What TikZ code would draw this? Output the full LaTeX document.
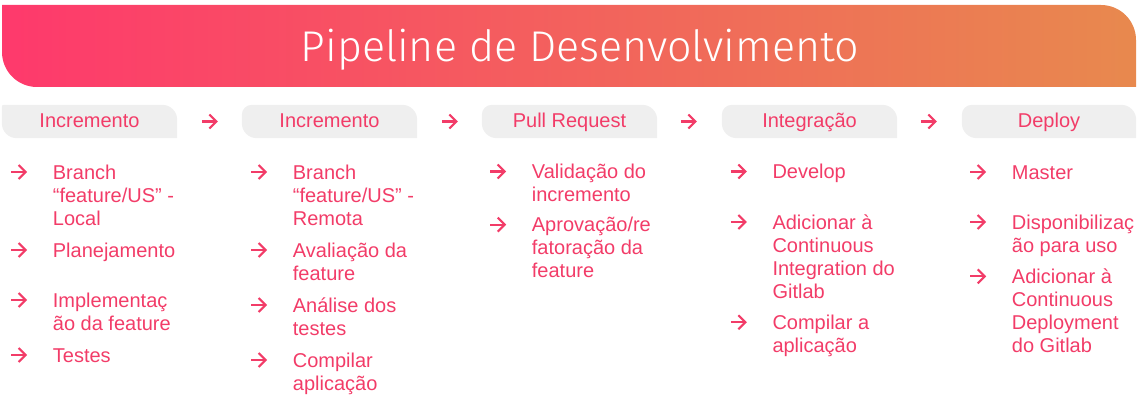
\documentclass[tikz,border=0pt]{standalone}
\usepackage{fontspec}
\setmainfont{Liberation Sans}
\newfontfamily\titlefont{Fira Sans}[UprightFont={* Light}]
\usetikzlibrary{arrows.meta,backgrounds}
\definecolor{hdrL}{RGB}{254,57,108}
\definecolor{hdrR}{RGB}{232,137,78}
\definecolor{tabgray}{RGB}{239,239,239}
\definecolor{pinktxt}{RGB}{242,60,104}
\newcommand\tabbg[2]{%
  \fill[tabgray] ([xshift=#2]#1.north west) -- ([xshift=-15pt]#1.north east)
    arc[start angle=90,end angle=0,radius=15pt] -- (#1.south east)
    -- ([xshift=15pt]#1.south west) arc[start angle=270,end angle=180,radius=15pt]
    -- ([yshift=-#2]#1.north west) arc[start angle=180,end angle=90,radius=#2] -- cycle;}
% #1 name, #2 x, #3 baseline of first line, #4 number of lines, #5 text
\newcommand\bul[5]{%
  \node[itembox] (#1) at (#2,{-#3-23*(#4-1)}) {#5};
  \coordinate (#1s) at ({#2-41.5},{-#3+7});
  \coordinate (#1e) at ({#2-25.5},{-#3+7});
  \draw[arr] (#1s) -- (#1e);}
\begin{document}
\begin{tikzpicture}[x=1pt,y=1pt,
  tab/.style={minimum width=175pt, minimum height=33pt, inner sep=0pt, text height=17pt, text depth=4pt,
    text=pinktxt, font=\fontsize{20}{23}\selectfont},
  itembox/.style={anchor=base west, inner sep=0pt, align=left, text=pinktxt, font=\fontsize{20}{23}\selectfont},
  arr/.style={draw=pinktxt, line width=2.1pt, -{Straight Barb[length=7pt,width=14pt]}},
]
\useasboundingbox (0,0) rectangle (1141,-409);
% header
\shade[left color=hdrL, right color=hdrR] (2,-5) -- (1101,-5)
  arc[start angle=90,end angle=0,radius=35pt] -- (1136,-87) -- (37,-87)
  arc[start angle=270,end angle=180,radius=35pt] -- cycle;
\node[font=\titlefont\fontsize{43}{50}\selectfont, text=white, anchor=base, inner sep=0pt] (title) at (580,-62) {Pipeline de Desenvolvimento};
% tabs
\node[tab] (t1) at (89.5,-121.5) {Incremento};
\node[tab] (t2) at (329.5,-121.5) {Incremento};
\node[tab] (t3) at (569.5,-121.5) {Pull Request};
\node[tab] (t4) at (809.5,-121.5) {Integração};
\node[tab, minimum width=174pt] (t5) at (1049,-121.5) {Deploy};
\begin{scope}[on background layer]
  \tabbg{t1}{2pt}
  \tabbg{t2}{10pt}
  \tabbg{t3}{10pt}
  \tabbg{t4}{10pt}
  \tabbg{t5}{10pt}
\end{scope}
\draw[arr] ([xshift=25pt]t1.east) -- ([xshift=-24pt]t2.west);
\draw[arr] ([xshift=25pt]t2.east) -- ([xshift=-24pt]t3.west);
\draw[arr] ([xshift=24pt]t3.east) -- ([xshift=-25pt]t4.west);
\draw[arr] ([xshift=24pt]t4.east) -- ([xshift=-25pt]t5.west);
% column 1
\bul{a1}{52.7}{179}{3}{Branch\\“feature/US” -\\Local}
\bul{a2}{52.7}{257}{1}{Planejamento}
\bul{a3}{52.7}{307}{2}{Implementaç\\ão da feature}
\bul{a4}{52.7}{362}{1}{Testes}
% column 2
\bul{b1}{292.7}{179}{3}{Branch\\“feature/US” -\\Remota}
\bul{b2}{292.7}{257}{2}{Avaliação da\\feature}
\bul{b3}{292.7}{312}{2}{Análise dos\\testes}
\bul{b4}{292.7}{367}{2}{Compilar\\aplicação}
% column 3
\bul{c1}{531.7}{178.5}{2}{Validação do\\incremento}
\bul{c2}{531.7}{231.7}{3}{Aprovação/re\\fatoração da\\feature}
% column 4
\bul{d1}{772.3}{178.5}{1}{Develop}
\bul{d2}{772.3}{229}{4}{Adicionar à\\Continuous\\Integration do\\Gitlab}
\bul{d3}{772.3}{329.3}{2}{Compilar a\\aplicação}
% column 5
\bul{e1}{1011.7}{179}{1}{Master}
\bul{e2}{1011.7}{229}{2}{Disponibilizaç\\ão para uso}
\bul{e3}{1011.7}{283.3}{4}{Adicionar à\\Continuous\\Deployment\\do Gitlab}
\end{tikzpicture}
\end{document}
